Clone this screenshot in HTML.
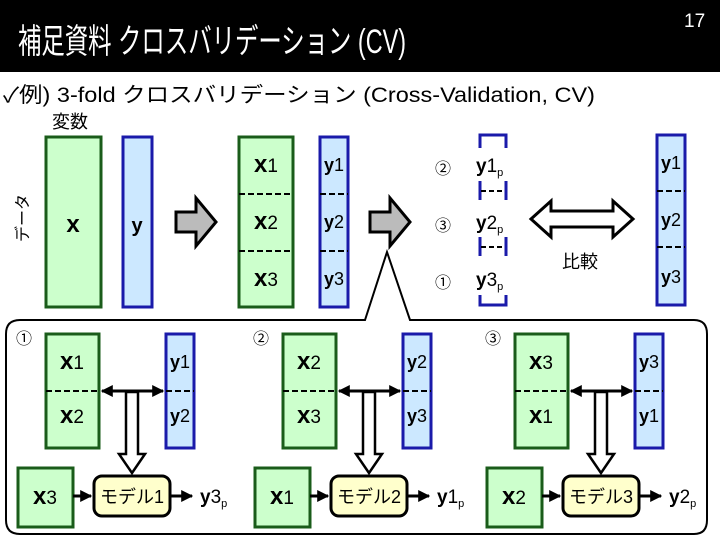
<!DOCTYPE html>
<html><head><meta charset="utf-8"><style>
html,body{margin:0;padding:0;background:#fff;}
svg{display:block;}
text{font-family:"Liberation Sans","Noto Sans CJK JP",sans-serif;}
</style></head><body>
<svg width="720" height="540" viewBox="0 0 720 540" xmlns="http://www.w3.org/2000/svg">
<defs>
<marker id="ah" viewBox="0 0 10 10" refX="9" refY="5" markerWidth="4" markerHeight="4" orient="auto-start-reverse"><path d="M0,0L10,5L0,10z" fill="#000"/></marker>
</defs>
<rect x="0" y="0" width="720" height="72" fill="#000"/>
<text x="18" y="53" fill="#fff" font-size="34" textLength="388" lengthAdjust="spacingAndGlyphs">補足資料 クロスバリデーション (CV)</text>
<text x="684" y="27" fill="#fff" font-size="19" font-family="Liberation Serif">17</text>
<text x="3" y="102" font-size="21" textLength="592" lengthAdjust="spacingAndGlyphs">✓例) 3-fold クロスバリデーション (Cross-Validation, CV)</text>
<text x="52" y="128" font-size="18">変数</text>
<text x="28" y="218" font-size="16" transform="rotate(-90 28 218)" text-anchor="middle">データ</text>

<rect x="46" y="137" width="55" height="170" fill="#ccffcc" stroke="#1a5c1a" stroke-width="3"/>
<text x="73" y="232" font-size="24" font-weight="bold" text-anchor="middle">x</text>
<rect x="123" y="137" width="29" height="170" fill="#cce8ff" stroke="#1a1aaa" stroke-width="3"/>
<text x="137" y="232" font-size="20" font-weight="bold" text-anchor="middle">y</text>
<path d="M176,212h20v-14l20,24l-20,24v-14h-20z" fill="#bbb" stroke="#000" stroke-width="3"/>
<rect x="239" y="137" width="54" height="170" fill="#ccffcc" stroke="#1a5c1a" stroke-width="3"/>
<line x1="239" y1="194" x2="293" y2="194" stroke="#000" stroke-width="2" stroke-dasharray="6,3"/>
<line x1="239" y1="251" x2="293" y2="251" stroke="#000" stroke-width="2" stroke-dasharray="6,3"/>
<text x="266" y="172" font-size="19" text-anchor="middle"><tspan font-weight="bold" font-size="24">x</tspan>1</text>
<text x="266" y="229" font-size="19" text-anchor="middle"><tspan font-weight="bold" font-size="24">x</tspan>2</text>
<text x="266" y="286" font-size="19" text-anchor="middle"><tspan font-weight="bold" font-size="24">x</tspan>3</text>
<rect x="320" y="137" width="28" height="170" fill="#cce8ff" stroke="#1a1aaa" stroke-width="3"/>
<line x1="320" y1="194" x2="348" y2="194" stroke="#000" stroke-width="2" stroke-dasharray="6,3"/>
<line x1="320" y1="251" x2="348" y2="251" stroke="#000" stroke-width="2" stroke-dasharray="6,3"/>
<text x="334" y="171" font-size="18" text-anchor="middle"><tspan font-weight="bold">y</tspan>1</text>
<text x="334" y="228" font-size="18" text-anchor="middle"><tspan font-weight="bold">y</tspan>2</text>
<text x="334" y="285" font-size="18" text-anchor="middle"><tspan font-weight="bold">y</tspan>3</text>
<path d="M370,212h20v-14l20,24l-20,24v-14h-20z" fill="#bbb" stroke="#000" stroke-width="3"/>

<text x="443" y="174" font-size="16" text-anchor="middle">②</text>
<text x="443" y="231" font-size="16" text-anchor="middle">③</text>
<text x="443" y="288" font-size="16" text-anchor="middle">①</text>
<g stroke="#1a1aaa" stroke-width="3" fill="none">
<path d="M480,148v-13h26v13"/><path d="M480,295v10h26v-10"/>
<path d="M480,181v19M506,181v19M480,237v19M506,237v19"/>
</g>
<line x1="481" y1="191" x2="505" y2="191" stroke="#000" stroke-width="2" stroke-dasharray="5,3"/>
<line x1="481" y1="247" x2="505" y2="247" stroke="#000" stroke-width="2" stroke-dasharray="5,3"/>
<text x="476" y="172" font-size="19"><tspan font-weight="bold">y</tspan>1<tspan font-size="11" dy="4">p</tspan></text>
<text x="476" y="229" font-size="19"><tspan font-weight="bold">y</tspan>2<tspan font-size="11" dy="4">p</tspan></text>
<text x="476" y="286" font-size="19"><tspan font-weight="bold">y</tspan>3<tspan font-size="11" dy="4">p</tspan></text>
<path d="M531,219l20,-18v10h62v-10l20,18l-20,18v-10h-62v10z" fill="#fff" stroke="#000" stroke-width="3"/>
<text x="580" y="268" font-size="18" text-anchor="middle">比較</text>
<rect x="657" y="135" width="28" height="170" fill="#cce8ff" stroke="#1a1aaa" stroke-width="3"/>
<line x1="657" y1="191" x2="685" y2="191" stroke="#000" stroke-width="2" stroke-dasharray="6,3"/>
<line x1="657" y1="247" x2="685" y2="247" stroke="#000" stroke-width="2" stroke-dasharray="6,3"/>
<text x="671" y="169" font-size="18" text-anchor="middle"><tspan font-weight="bold">y</tspan>1</text>
<text x="671" y="226" font-size="18" text-anchor="middle"><tspan font-weight="bold">y</tspan>2</text>
<text x="671" y="283" font-size="18" text-anchor="middle"><tspan font-weight="bold">y</tspan>3</text>

<path d="M365,320H20Q6,320 6,334V520Q6,534 20,534H694Q707,534 707,520V334Q707,320 694,320H410L387,252z" fill="#fff" stroke="#000" stroke-width="2"/>

<g>
<text x="24" y="344" font-size="16" text-anchor="middle">①</text>
<rect x="46" y="334" width="53" height="114" fill="#ccffcc" stroke="#1a5c1a" stroke-width="3"/>
<line x1="46" y1="391" x2="99" y2="391" stroke="#000" stroke-width="2" stroke-dasharray="6,3"/>
<text x="72" y="369" font-size="19" text-anchor="middle"><tspan font-weight="bold" font-size="24">x</tspan>1</text>
<text x="72" y="423" font-size="19" text-anchor="middle"><tspan font-weight="bold" font-size="24">x</tspan>2</text>
<rect x="166" y="334" width="28" height="114" fill="#cce8ff" stroke="#1a1aaa" stroke-width="3"/>
<line x1="166" y1="391" x2="194" y2="391" stroke="#000" stroke-width="2" stroke-dasharray="6,3"/>
<text x="180" y="368" font-size="18" text-anchor="middle"><tspan font-weight="bold">y</tspan>1</text>
<text x="180" y="422" font-size="18" text-anchor="middle"><tspan font-weight="bold">y</tspan>2</text>
<line x1="102" y1="391" x2="163" y2="391" stroke="#000" stroke-width="3" marker-start="url(#ah)" marker-end="url(#ah)"/>
<path d="M126,392h12v62h7l-13,19l-13,-19h7z" fill="#fff" stroke="#000" stroke-width="2.5"/>
<rect x="18" y="468" width="55" height="59" fill="#ccffcc" stroke="#1a5c1a" stroke-width="3"/>
<text x="45" y="504" font-size="19" text-anchor="middle"><tspan font-weight="bold" font-size="24">x</tspan>3</text>
<line x1="73" y1="496" x2="91" y2="496" stroke="#000" stroke-width="3" marker-end="url(#ah)"/>
<rect x="94" y="476" width="76" height="40" rx="8" fill="#ffffcc" stroke="#000" stroke-width="3"/>
<text x="132" y="503" font-size="18" text-anchor="middle">モデル1</text>
<line x1="170" y1="496" x2="192" y2="496" stroke="#000" stroke-width="3" marker-end="url(#ah)"/>
<text x="200" y="503" font-size="19"><tspan font-weight="bold">y</tspan>3<tspan font-size="11" dy="4">p</tspan></text>
</g>

<g transform="translate(237,0)">
<text x="24" y="344" font-size="16" text-anchor="middle">②</text>
<rect x="46" y="334" width="53" height="114" fill="#ccffcc" stroke="#1a5c1a" stroke-width="3"/>
<line x1="46" y1="391" x2="99" y2="391" stroke="#000" stroke-width="2" stroke-dasharray="6,3"/>
<text x="72" y="369" font-size="19" text-anchor="middle"><tspan font-weight="bold" font-size="24">x</tspan>2</text>
<text x="72" y="423" font-size="19" text-anchor="middle"><tspan font-weight="bold" font-size="24">x</tspan>3</text>
<rect x="166" y="334" width="28" height="114" fill="#cce8ff" stroke="#1a1aaa" stroke-width="3"/>
<line x1="166" y1="391" x2="194" y2="391" stroke="#000" stroke-width="2" stroke-dasharray="6,3"/>
<text x="180" y="368" font-size="18" text-anchor="middle"><tspan font-weight="bold">y</tspan>2</text>
<text x="180" y="422" font-size="18" text-anchor="middle"><tspan font-weight="bold">y</tspan>3</text>
<line x1="102" y1="391" x2="163" y2="391" stroke="#000" stroke-width="3" marker-start="url(#ah)" marker-end="url(#ah)"/>
<path d="M126,392h12v62h7l-13,19l-13,-19h7z" fill="#fff" stroke="#000" stroke-width="2.5"/>
<rect x="18" y="468" width="55" height="59" fill="#ccffcc" stroke="#1a5c1a" stroke-width="3"/>
<text x="45" y="504" font-size="19" text-anchor="middle"><tspan font-weight="bold" font-size="24">x</tspan>1</text>
<line x1="73" y1="496" x2="91" y2="496" stroke="#000" stroke-width="3" marker-end="url(#ah)"/>
<rect x="94" y="476" width="76" height="40" rx="8" fill="#ffffcc" stroke="#000" stroke-width="3"/>
<text x="132" y="503" font-size="18" text-anchor="middle">モデル2</text>
<line x1="170" y1="496" x2="192" y2="496" stroke="#000" stroke-width="3" marker-end="url(#ah)"/>
<text x="200" y="503" font-size="19"><tspan font-weight="bold">y</tspan>1<tspan font-size="11" dy="4">p</tspan></text>
</g>

<g transform="translate(469,0)">
<text x="24" y="344" font-size="16" text-anchor="middle">③</text>
<rect x="46" y="334" width="53" height="114" fill="#ccffcc" stroke="#1a5c1a" stroke-width="3"/>
<line x1="46" y1="391" x2="99" y2="391" stroke="#000" stroke-width="2" stroke-dasharray="6,3"/>
<text x="72" y="369" font-size="19" text-anchor="middle"><tspan font-weight="bold" font-size="24">x</tspan>3</text>
<text x="72" y="423" font-size="19" text-anchor="middle"><tspan font-weight="bold" font-size="24">x</tspan>1</text>
<rect x="166" y="334" width="28" height="114" fill="#cce8ff" stroke="#1a1aaa" stroke-width="3"/>
<line x1="166" y1="391" x2="194" y2="391" stroke="#000" stroke-width="2" stroke-dasharray="6,3"/>
<text x="180" y="368" font-size="18" text-anchor="middle"><tspan font-weight="bold">y</tspan>3</text>
<text x="180" y="422" font-size="18" text-anchor="middle"><tspan font-weight="bold">y</tspan>1</text>
<line x1="102" y1="391" x2="163" y2="391" stroke="#000" stroke-width="3" marker-start="url(#ah)" marker-end="url(#ah)"/>
<path d="M126,392h12v62h7l-13,19l-13,-19h7z" fill="#fff" stroke="#000" stroke-width="2.5"/>
<rect x="18" y="468" width="55" height="59" fill="#ccffcc" stroke="#1a5c1a" stroke-width="3"/>
<text x="45" y="504" font-size="19" text-anchor="middle"><tspan font-weight="bold" font-size="24">x</tspan>2</text>
<line x1="73" y1="496" x2="91" y2="496" stroke="#000" stroke-width="3" marker-end="url(#ah)"/>
<rect x="94" y="476" width="76" height="40" rx="8" fill="#ffffcc" stroke="#000" stroke-width="3"/>
<text x="132" y="503" font-size="18" text-anchor="middle">モデル3</text>
<line x1="170" y1="496" x2="192" y2="496" stroke="#000" stroke-width="3" marker-end="url(#ah)"/>
<text x="200" y="503" font-size="19"><tspan font-weight="bold">y</tspan>2<tspan font-size="11" dy="4">p</tspan></text>
</g>
</svg>
</body></html>
